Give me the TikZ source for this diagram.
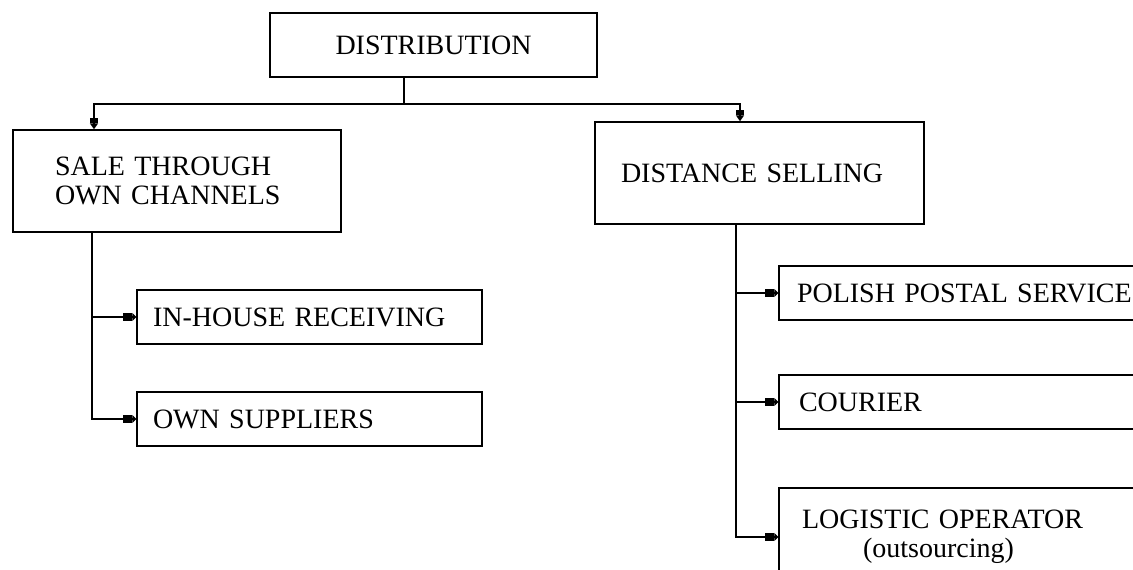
\documentclass[tikz,border=0pt]{standalone}
\usepackage{fontspec}
\setmainfont{Liberation Serif}
\usetikzlibrary{arrows.meta}
\tikzset{box/.style={draw, rectangle, line width=1.5pt, inner ysep=0pt, font=\fontsize{28}{29}\selectfont}}
\tikzset{link/.style={line width=1.5pt}}
\tikzset{downarr/.style={link, -{Rectangle[length=5pt,width=8pt]Triangle[length=6pt,width=8pt]}}}
\tikzset{sidearr/.style={link, -{Rectangle[length=9pt,width=8pt]Triangle[length=4pt,width=8pt]}}}

\begin{document}
\begin{tikzpicture}[x=1pt,y=-1pt]
\useasboundingbox (0,0) rectangle (1133,570);
\clip (0,0) rectangle (1133,570);
% top level
\node[box, minimum width=327pt, minimum height=64pt] (dist) at (433.5,45) {DISTRIBUTION};
\node[box, minimum height=102pt, inner xsep=42pt, text width=244pt, align=left] (sale) at (177,181) {SALE THROUGH\\OWN CHANNELS};
\node[box, minimum height=102pt, inner xsep=26pt, text width=277pt, align=left] (distance) at (759.5,173) {DISTANCE SELLING};
% own channels
\node[box, minimum height=54pt, inner xsep=16pt, text width=313pt, align=left] (inhouse) at (309.5,317) {IN-HOUSE RECEIVING};
\node[box, minimum height=54pt, inner xsep=16pt, text width=313pt, align=left] (ownsup) at (309.5,419) {OWN SUPPLIERS};
% distance selling
\node[box, minimum height=54pt, inner xsep=18pt, text width=385pt, align=left] (polish) at (989.5,293) {POLISH POSTAL SERVICE};
\node[box, minimum height=54pt, inner xsep=20pt, text width=381pt, align=left] (courier) at (989.5,402) {COURIER};
\node[box, minimum height=98pt, inner xsep=23pt, text width=375pt, align=left] (logistic) at (989.5,537) {LOGISTIC OPERATOR\\\hspace*{61pt}(outsourcing)};

\coordinate (split) at (404,104);
\coordinate (saletrunk) at ([xshift=-85pt]sale.south);
\coordinate (distrunk) at ([xshift=-23.5pt]distance.south);

\draw[link] (dist.south -| split) -- (split);
\draw[downarr] (split) -| ([xshift=-83pt]sale.north);
\draw[downarr] (split) -| ([xshift=-19.5pt]distance.north);

\draw[sidearr] (saletrunk) |- (ownsup.west);
\draw[sidearr] (saletrunk |- inhouse.west) -- (inhouse.west);

\draw[sidearr] (distrunk) |- (logistic.west);
\foreach \n in {polish,courier}
  \draw[sidearr] (distrunk |- \n.west) -- (\n.west);
\end{tikzpicture}
\end{document}
